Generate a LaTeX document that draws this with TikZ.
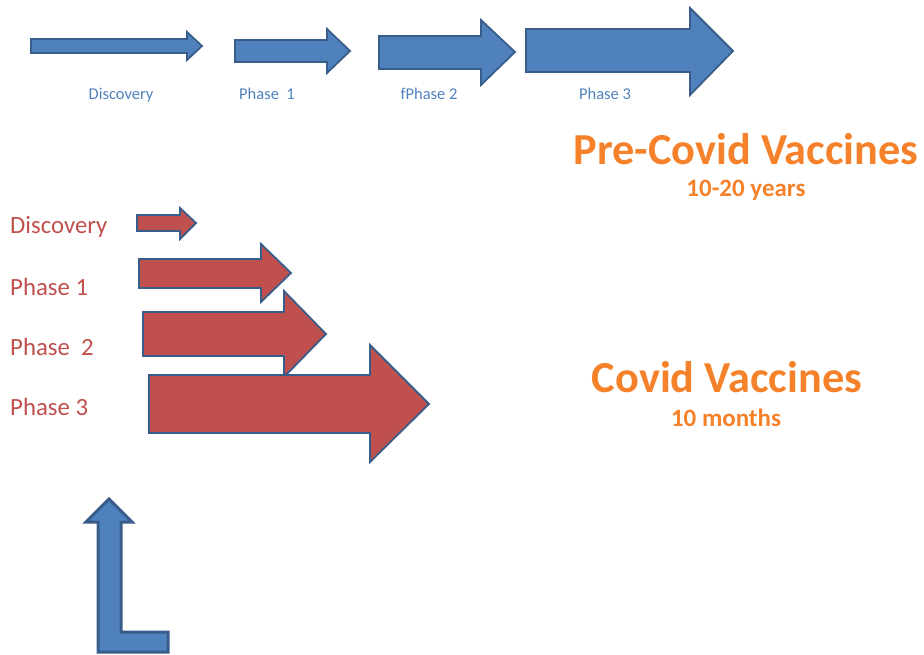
\documentclass[tikz,border=0pt]{standalone}
\usepackage{fontspec}
\setmainfont{Carlito}
\definecolor{bfill}{HTML}{4F81BD}
\definecolor{bline}{HTML}{385D8A}
\definecolor{rfill}{HTML}{C0504D}
\definecolor{orng}{HTML}{F5822A}
\tikzset{
  bluearrow/.style={fill=bfill, draw=bline, line width=1.8pt, line join=miter},
  redarrow/.style={fill=rfill, draw=bline, line width=1.8pt, line join=miter},
  bentarrow/.style={fill=bfill, draw=bline, line width=3pt, line join=miter},
  toplabel/.style={text=bfill, font=\fontsize{16.5}{19}\selectfont, inner sep=0pt},
  redlabel/.style={text=rfill, font=\fontsize{24.8}{28}\selectfont, inner sep=0pt, anchor=west},
  bigtitle/.style={text=orng, font=\fontsize{44.3}{49}\selectfont\bfseries, inner sep=0pt},
  subtitle/.style={text=orng, font=\fontsize{25}{28}\selectfont\bfseries, inner sep=0pt}
}
\begin{document}
\begin{tikzpicture}[x=1pt,y=-1pt]
\useasboundingbox (0,0) rectangle (924,655);
% top blue arrows
\draw[bluearrow] (31,39) -- (187,39) -- (187,32) -- (202,46) -- (187,60) -- (187,53) -- (31,53) -- cycle;
\draw[bluearrow] (235,40) -- (327,40) -- (327,29) -- (350,51) -- (327,73) -- (327,62) -- (235,62) -- cycle;
\draw[bluearrow] (379,36) -- (481,36) -- (481,20) -- (515,52) -- (481,85) -- (481,69) -- (379,69) -- cycle;
\draw[bluearrow] (526,29) -- (690,29) -- (690,8) -- (733,51) -- (690,95) -- (690,72) -- (526,72) -- cycle;
\node[toplabel] (t1) at (121,95) {Discovery};
\node[toplabel] (t2) at (267,94) {Phase\ \ 1};
\node[toplabel] (t3) at (429,94) {fPhase 2};
\node[toplabel] (t4) at (605,94) {Phase 3};
% titles
\node[bigtitle] (pre) at (746,149) {Pre-Covid Vaccines};
\node[subtitle] (pres) at (746,190) {10-20 years};
\node[bigtitle] (cov) at (727,377) {Covid Vaccines};
\node[subtitle] (covs) at (726,418) {10 months};
% red arrows
\draw[redarrow] (137,215) -- (180,215) -- (180,208) -- (196,223) -- (180,239) -- (180,231) -- (137,231) -- cycle;
\draw[redarrow] (139,259) -- (261,259) -- (261,244) -- (291,273) -- (261,302) -- (261,288) -- (139,288) -- cycle;
\draw[redarrow] (143,312) -- (284,312) -- (284,291) -- (326,334) -- (284,377) -- (284,356) -- (143,356) -- cycle;
\draw[redarrow] (149,375) -- (370,375) -- (370,345) -- (429,404) -- (370,462) -- (370,433) -- (149,433) -- cycle;
\node[redlabel] (r1) at (10,227) {Discovery};
\node[redlabel] (r2) at (10,287) {Phase 1};
\node[redlabel] (r3) at (10,347) {Phase\ \ 2};
\node[redlabel] (r4) at (10,407) {Phase 3};
% bent-up arrow
\draw[bentarrow] (109,499) -- (132,522) -- (121,522) -- (121,632) -- (168,632) -- (168,652) -- (98,652) -- (98,522) -- (86,522) -- cycle;
\end{tikzpicture}
\end{document}
